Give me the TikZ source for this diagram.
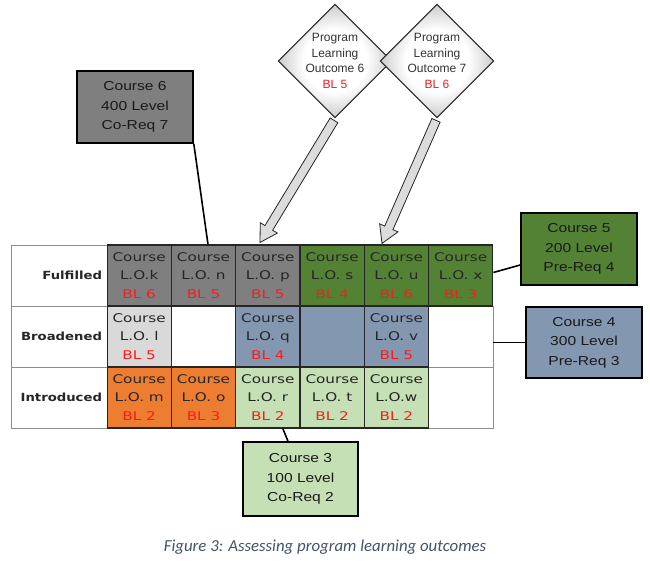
\documentclass[tikz,border=0pt]{standalone}
\usepackage{fontspec}
\usetikzlibrary{shapes.geometric,calc}
\newfontfamily\cellfont[FakeStretch=1.27]{DejaVu Sans}
\newfontfamily\lblfont[FakeStretch=1.18]{DejaVu Sans}
\newfontfamily\boxfont[FakeStretch=1.2]{Liberation Sans}
\newfontfamily\dfont{Liberation Sans}
\newfontfamily\capfont{Carlito}
\definecolor{cgray}{HTML}{7F7F7F}
\definecolor{cgreen}{HTML}{548235}
\definecolor{clgray}{HTML}{D9D9D9}
\definecolor{cblue}{HTML}{8497B0}
\definecolor{corange}{HTML}{ED7D31}
\definecolor{clgreen}{HTML}{C5E0B4}
\definecolor{blred}{HTML}{FF1A1A}
\definecolor{captcol}{HTML}{44546A}
\definecolor{arrfill}{HTML}{DCDCDC}
\pgfdeclareradialshading{dshade}{\pgfpoint{0bp}{0bp}}{color(0bp)=(white); color(14bp)=(white); color(36bp)=(black!40); color(50bp)=(black!40)}
\newcommand\BL[1]{\textcolor{blred}{BL #1}}
\newcommand\fatarrow[3]{%
  \coordinate (#3) at ($(#2)!17pt!(#1)$);
  \path[fatarr] ($(#1)!4.5pt!90:(#2)$) -- ($(#3)!4.5pt!90:(#2)$) -- ($(#3)!10pt!90:(#2)$) -- (#2)
    -- ($(#3)!10pt!-90:(#2)$) -- ($(#3)!4.5pt!-90:(#2)$) -- ($(#1)!4.5pt!-90:(#2)$) -- cycle;}
\tikzset{
  cell/.style={draw=black!85, line width=1.1pt, minimum width=64.3pt, minimum height=61pt, inner sep=0pt,
    align=center, text=black!85, font=\cellfont\fontsize{12}{18.5}\selectfont},
  wcell/.style={cell, fill=white, draw=black!45, line width=0.7pt},
  lcell/.style={wcell, minimum width=96pt, text width=86pt, align=right,
    font=\lblfont\bfseries\fontsize{11.2}{13}\selectfont},
  cbox/.style={draw=black, line width=1.6pt, minimum width=116pt, minimum height=72pt, inner sep=0pt,
    align=center, text=black!90, font=\boxfont\fontsize{13}{19.5}\selectfont},
  pdiam/.style={diamond, aspect=1, minimum width=102pt, minimum height=102pt, inner sep=0pt,
    draw=black!85, line width=1.1pt, shade, shading=dshade, align=center, text=black!80,
    font=\dfont\fontsize{12}{15.5}\selectfont},
  fatarr/.style={fill=arrfill, draw=black!85, line width=0.8pt, line join=miter},
  link/.style={draw=black, line width=1.6pt},
}
\begin{document}
\begin{tikzpicture}[x=1pt,y=-1pt]
\useasboundingbox[fill=white] (0,0) rectangle (650,561);
% label column
\node[lcell] (lf) at (59,275.5) {Fulfilled};
\node[lcell] (lb) at (59,336.5) {Broadened};
\node[lcell] (li) at (59,397.5) {Introduced};
% white cells
\node[wcell] (b2) at (203.5,336.5) {};
\node[wcell] (b6) at (460.7,336.5) {};
\node[wcell] (i6) at (460.7,397.5) {};
% fulfilled row
\node[cell, fill=cgray] (f1) at (139.2,275.5) {Course\\L.O.k\\\BL{6}};
\node[cell, fill=cgray] (f2) at (203.5,275.5) {Course\\L.O. n\\\BL{5}};
\node[cell, fill=cgray] (f3) at (267.8,275.5) {Course\\L.O. p\\\BL{5}};
\node[cell, fill=cgreen] (f4) at (332.1,275.5) {Course\\L.O. s\\\BL{4}};
\node[cell, fill=cgreen] (f5) at (396.4,275.5) {Course\\L.O. u\\\BL{6}};
\node[cell, fill=cgreen] (f6) at (460.7,275.5) {Course\\L.O. x\\\BL{3}};
% broadened row
\node[cell, fill=clgray] (b1) at (139.2,336.5) {Course\\L.O. l\\\BL{5}};
\node[cell, fill=cblue] (b3) at (267.8,336.5) {Course\\L.O. q\\\BL{4}};
\node[cell, fill=cblue] (b4) at (332.1,336.5) {};
\node[cell, fill=cblue] (b5) at (396.4,336.5) {Course\\L.O. v\\\BL{5}};
% introduced row
\node[cell, fill=corange] (i1) at (139.2,397.5) {Course\\L.O. m\\\BL{2}};
\node[cell, fill=corange] (i2) at (203.5,397.5) {Course\\L.O. o\\\BL{3}};
\node[cell, fill=clgreen] (i3) at (267.8,397.5) {Course\\L.O. r\\\BL{2}};
\node[cell, fill=clgreen] (i4) at (332.1,397.5) {Course\\L.O. t\\\BL{2}};
\node[cell, fill=clgreen] (i5) at (396.4,397.5) {Course\\L.O.w\\\BL{2}};
% course boxes
\node[cbox, fill=cgray] (c6) at (135,107) {Course 6\\400 Level\\Co-Req 7};
\node[cbox, fill=cgreen] (c5) at (579,249) {Course 5\\200 Level\\Pre-Req 4};
\node[cbox, fill=cblue, minimum height=71pt] (c4) at (584,342.5) {Course 4\\300 Level\\Pre-Req 3};
\node[cbox, fill=clgreen, minimum width=115pt, minimum height=74pt] (c3) at (300.5,479) {Course 3\\100 Level\\Co-Req 2};
% links
\draw[link] (c6.south east) -- ($(f2.north)+(4.5,0)$);
\draw[link] ($(c5.west)+(0,16)$) -- ($(f6.east)+(0,-3)$);
\draw[link] (b6.east |- c4.west) -- (c4.west);
\draw[link] ($(i3.south)+(15,0)$) -- ($(c3.north)+(-12.5,0)$);
% diamonds
\node[pdiam] (d1) at (335,61) {Program\\Learning\\Outcome 6\\\BL{5}};
\node[pdiam] (d2) at (437,61) {Program\\Learning\\Outcome 7\\\BL{6}};
% fat arrows
\coordinate (s1) at ($(d1.south)+(-1,2)$);
\coordinate (t1) at ($(f3.north)+(-7.8,-2)$);
\coordinate (s2) at ($(d2.south)+(-1,2)$);
\coordinate (t2) at ($(f5.north)+(-14.4,-1)$);
\fatarrow{s1}{t1}{h1}
\fatarrow{s2}{t2}{h2}
% caption
\node[font=\capfont\itshape\fontsize{16.8}{19}\selectfont, text=captcol] (cap) at (325,547) {Figure 3: Assessing program learning outcomes};
\end{tikzpicture}
\end{document}
